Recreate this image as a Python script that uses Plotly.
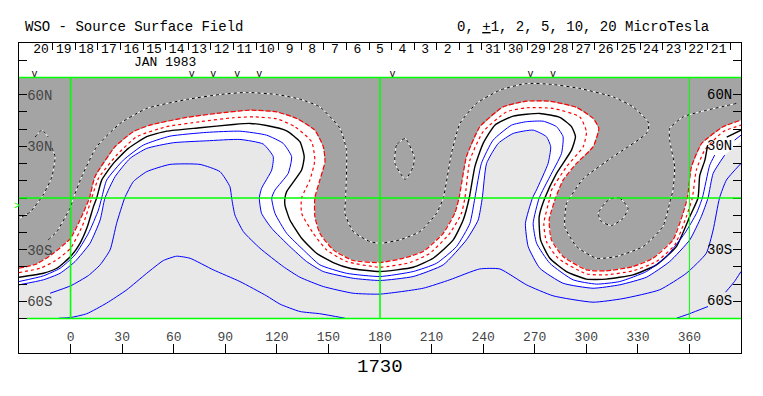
import plotly.graph_objects as go

# --- Contour lines (Carrington longitude, latitude in degrees) ---
NEG2_LON = [-30,-19.7,-10,0,5.5,11,14.2,25.9,36.5,46.2,67.5,85,104.4,119.9,131.5,142.1,147,148,145,142.1,142.1,145,152.8,164.4,180,193.5,205.1,216.8,223.5,226,230.3,238.1,251.6,265.2,278.8,294.3,304,307.3,304,294.3,286.5,282.1,278.4,279.7,286.5,300.1,311.7,327.2,338.8,350.5,356.3,358.8,361.2,367.1,379.6,390]
NEG2_LAT = [-40.8,-38.3,-32.1,-23.4,-12.8,0,12.4,29.8,38.5,42.3,46.8,49.1,51,50,46.2,39.4,29.8,21.1,10.4,0,-10.8,-20.5,-30.1,-36.3,-37.5,-35,-31.1,-20.5,-8.9,0,24,41.4,52.9,56.2,56.2,52.6,46.2,40.4,29.8,20.1,10.4,0,-12.8,-24.3,-34,-41.7,-42.3,-39.8,-35,-24.3,-8.9,0,18.2,31.7,41.4,45.2]

NEG1_LON = [-30,-17.7,-9,0,7.5,12.3,16.2,26.8,38.5,55.9,75.3,94.7,106.3,119.9,130.5,140.2,142.1,139.2,134.4,134.4,141.2,148.9,160.5,180,197.4,209,220.6,227.4,229.4,232.3,240,253.6,265.2,280.7,296.2,300.1,298.2,288.5,279.8,278.8,275.3,276.8,283.6,300.1,311.7,327.2,340.8,351.5,358.2,361.7,364,368.9,379.6,390]
NEG1_LAT = [-43.3,-40.8,-36.5,-29.2,-14.7,0,11.4,24.9,35.6,41.4,44.3,46.6,47.1,46,41.4,32.7,22,10.4,0,-8.9,-20.5,-30.1,-36.9,-40.2,-37.5,-32.1,-20.5,-8.9,0,22,38.5,50,52.4,52,47.1,38.5,29.8,18.2,4.6,0,-14.7,-25.3,-35,-44.1,-44.6,-42.3,-36.9,-27.2,-10.8,0,16.2,27.8,38.5,42.3]

ZERO_LON = [-30,-15.8,-8,0,5.5,9.8,13.3,15.2,18.1,24.9,33.6,44.3,55.9,75.3,94.7,104.4,114,125.7,133.4,135.9,134.4,125.7,124.7,124.7,127.6,134.4,143.1,152.8,162.5,180,199.3,210.9,222.6,228.4,231.9,235.2,240,246.8,257.5,273,284.6,291.4,293.7,291.4,282.7,275.9,272.6,273.4,278.8,288.5,300.1,311.7,327.2,340.8,352.4,360.2,365,366,369,370.6,None,381.7,390]
ZERO_LAT = [-46,-43.7,-40.8,-34,-26.3,-16.6,-5,0,10.4,20.1,28.8,35.6,38.8,40.8,42.7,43.3,42.1,39,32.7,24,16.2,3.7,0,-4.1,-12.8,-23.4,-32.1,-37.5,-40.8,-42.7,-40.2,-35,-24.3,-12.8,0,18.2,31.7,42.3,47.5,49.1,46.8,41.4,35.6,27.8,14.3,0,-10.8,-24.3,-35,-42.7,-47.1,-47.1,-44.6,-38.8,-28.2,-10.8,0,13,22,30.7,None,35.4,39.4]

POS1_LON = [-30,-15.8,-6.1,2.6,10.4,16.2,18.1,21,30.7,42.3,57.8,79.2,98.5,114,123.7,128.6,126.6,118.9,117,118.9,125.7,135.4,145,160.5,180,199.3,212.9,224.5,232.3,235.2,239,245.8,256.5,265.2,274.9,282.7,286.5,285.6,278.8,272.6,269.1,271.1,278.8,292.3,305.9,319.5,335,346.6,357.3,364.1,367.5,371.8,374.7,None,386.3,390]
POS1_LAT = [-48.5,-45.2,-40.8,-33,-20.5,-7,0,10.4,22,30.7,35.9,38.1,38.8,36.5,31.7,24,14.3,4.6,0,-8.9,-20.5,-30.1,-38.8,-43.7,-45.6,-42.7,-37.9,-28.2,-14.7,0,20.1,33.6,42.3,44.3,44.6,41.4,35.6,25.9,12.4,0,-14.7,-26.3,-37.9,-47.5,-50,-48.5,-42.7,-34,-20.5,-8.9,0,19,24.9,None,33.6,36.5]

POS2_LON = [-30,-15.8,-6.1,2.6,11.3,17.2,20,25.9,34.6,44.3,59.8,79.2,98.5,112.1,117.9,117,111.1,109.8,111.1,117,127.6,137.3,147,164.4,180,199.3,216.8,230.3,237.1,239.5,242,248.8,257.5,269.1,276.8,279.3,277.8,271,268.7,264.6,266.2,273,286.5,303.9,319.5,335,348.5,360.2,366.9,370.8,373.8,380.5,390]
POS2_LAT = [-50.4,-47.5,-43.7,-36.9,-26.3,-12.8,0,12.4,23,28.8,32.1,33.2,34,31.3,24,16.2,5.6,0,-8.9,-17.6,-28.2,-36.9,-42.7,-46.6,-47.9,-45.6,-38.8,-24.3,-12.8,0,20.1,31.7,37.5,39.4,35.6,29.8,20.1,4.6,0,-14.7,-28.2,-40.8,-49.5,-52.4,-50.4,-46,-36.9,-24.3,-10.8,0,14.3,24.9,32.7]

POS5_LON = [-11.9,0,10.4,17.2,23,26.8,31.5,36.5,44.3,57.8,75.3,86.9,92.7,93.7,95.6,100.5,110.2,123.7,133.4,147,164.4,180,205.1,220.6,238,249.7,265.2,280.7,303.9,321.4,342.7,358.2,369.8,373.8,377.5,381.5,390]
POS5_LAT = [-55.3,-51,-45,-38.8,-30.1,-14.7,0,9.5,15.3,19.5,19.5,15.3,6.6,0,-9.9,-19.5,-29.2,-39.8,-46,-51.4,-55.3,-55.8,-52.4,-47.5,-41.2,-41.2,-50.4,-56.8,-60.5,-58.4,-53.3,-43.7,-32.1,-18.6,0,10.4,20.1]

POS10_LON = [-7,0,9.4,21,32.7,44.3,54,61.7,69.5,83,98.5,114,121.8,133.4,145,159.6,None,352.5,360,370.8,None,381,386.2,390]
POS10_LAT = [-69.8,-69.4,-67.2,-61,-53.3,-43.7,-36.3,-33.8,-35,-41.7,-48.5,-56.8,-61.6,-65.9,-67.2,-69.8,None,-69.8,-67.2,-63,None,-54.7,-48.5,-42.7]

NEG5_LON = [-20.6,-16.7,-13,None,-10.8,-9,-10.9,-16,-23.5,-29.4,None,-13,-8,0,1.6,6.5,15.2,28.8,44.3,67.5,86.9,102.4,119.9,133.4,145,156.7,160.5,160,159.6,164.4,174.1,180,191.6,203.2,212.9,216.8,221.6,226.5,236.1,249.7,265.2,280.7,296.2,315.6,327.2,336.5,335,315.6,298.2,290.4,288.5,287.5,294.3,305.9,317.5,333,344.6,348.5,350.4,351.4,348.5,348.5,356.3,366,387.3]
NEG5_LAT = [35.4,39.4,35.4,None,29,23.8,12.2,1.7,-8.1,-11.6,None,-24.3,-19.5,-5.2,0,12.4,29.8,43.3,52,57.2,60.1,61.3,60.1,57.4,52.9,40.4,27.8,0,-8.9,-19.5,-25.3,-26.3,-24.3,-19.5,-8.9,0,25.9,43.3,54.9,62.6,66.5,65.9,63.6,58.7,52.9,43.3,37.5,24,11.2,0,-3.1,-16.6,-28.2,-35,-34,-28.2,-16.6,-3.1,4.6,18.2,33.6,40.4,47.1,50,54.9]

NEG10_LON = [194.7,189.6,188.7,194.7,199.3,199.9,194.7,None,313.7,319.5,324.3,321.4,314.7,308.8,306.9,310.8,313.7]
NEG10_LAT = [34.6,30.7,20.1,10.8,18.2,24,34.6,None,-0.6,0,-6,-11.8,-16,-13.7,-8.9,-3.1,-0.6]

# --- Axis labels ---
LON_TICKS = list(range(0, 361, 30))
LAT_TICKS = [-80,-70,-60,-50,-40,-30,-20,-10,0,10,20,30,40,50,60,70,80]
LAT_TEXT = ["","","60S","","","30S","","","","","","30N","","","60N","",""]
RIGHT_LAT_LABELS = [60, 30, -30, -60]
RIGHT_TEXT = ["60N", "30N", "30S", "60S"]

DAY_TICKS = [-23.5,-10.4,2.8,15.9,29.1,42.2,55.3,68.5,81.6,94.8,107.9,121,134.2,147.3,160.5,173.6,186.7,199.9,213,226.2,239.3,252.4,265.6,278.7,291.9,305,318.1,331.3,344.4,357.6,370.7,383.8]
DAY_POS = [-17.2,-4,9.1,22.3,35.4,48.5,61.7,74.8,88,101.1,114.2,127.4,140.5,153.7,166.8,179.9,193.1,206.2,219.4,232.5,245.6,258.8,271.9,285.1,298.2,311.3,324.5,337.6,350.8,363.9,377]
DAY_TEXT = ["20","19","18","17","16","15","14","13","12","11","10","9","8","7","6","5","4","3","2","1","31","30","29","28","27","26","25","24","23","22","21"]
OBS_LON = [-21,70.5,83,97,109.8,187.3,267.5,280.7]

FONT = "Liberation Mono"
BLUE, RED, GREEN = "#0000ff", "#ff0000", "#00ff00"
DARK, LIGHT = "#a4a4a4", "#e8e8e8"

fig = go.Figure()

def closed(lons, lats):
    return lons + [390, -30], lats + [-70, -70]

x, y = closed(NEG2_LON, NEG2_LAT)
fig.add_trace(go.Scatter(x=x, y=y, mode="lines", fill="toself", fillcolor="#ffffff", line=dict(width=0), hoverinfo="skip"))
x, y = closed(POS2_LON, POS2_LAT)
fig.add_trace(go.Scatter(x=x, y=y, mode="lines", fill="toself", fillcolor=LIGHT, line=dict(width=0), hoverinfo="skip"))

def contour(lons, lats, color, width=1.0, dash=None):
    fig.add_trace(go.Scatter(x=lons, y=lats, mode="lines", connectgaps=False,
                             line=dict(color=color, width=width, dash=dash, shape="spline", smoothing=0.5)))

for lo, la in ((NEG5_LON, NEG5_LAT), (NEG10_LON, NEG10_LAT)):
    contour(lo, la, "#ffffff", 1.0)
    contour(lo, la, "#000000", 1.0, "3px,3px")
contour(NEG2_LON, NEG2_LAT, RED, 1.2, "5px,2px")
contour(NEG1_LON, NEG1_LAT, RED, 1.2, "3px,3px")
contour(ZERO_LON, ZERO_LAT, "#000000", 1.4)
contour(POS1_LON, POS1_LAT, BLUE, 1.0)
contour(POS2_LON[:-1], POS2_LAT[:-1], BLUE, 1.0)
contour(POS5_LON, POS5_LAT, BLUE, 1.0)
contour(POS10_LON, POS10_LAT, BLUE, 1.0)

fig.add_trace(go.Scatter(x=DAY_POS, y=[85.8]*len(DAY_POS), text=DAY_TEXT, mode="text", xaxis="x2",
                         textfont=dict(family=FONT, size=13, color="#000"), hoverinfo="skip"))
fig.add_trace(go.Scatter(x=OBS_LON, y=[71.9]*len(OBS_LON), text=["v"]*len(OBS_LON), mode="text", xaxis="x2",
                         textfont=dict(family=FONT, size=10, color="#000"), hoverinfo="skip"))

shapes = [dict(type="rect", xref="x", yref="y", x0=-30, x1=390, y0=-70, y1=70, fillcolor=DARK, line_width=0, layer="below")]
for lon, w in ((0, 1.6), (180, 1.6), (360, 1)):
    shapes.append(dict(type="line", xref="x", yref="y", x0=lon, x1=lon, y0=-70, y1=70, line=dict(color=GREEN, width=w), layer="above"))
for lat, x0 in ((-70, -25.4), (0, -30), (70, -30)):
    shapes.append(dict(type="line", xref="x", yref="y", x0=x0, x1=390, y0=lat, y1=lat, line=dict(color=GREEN, width=1.6), layer="above"))

anns = [
    dict(text="WSO - Source Surface Field", xref="paper", yref="paper", x=0.0055, y=1.05, xanchor="left", yanchor="middle", font=dict(size=14)),
    dict(text="0, <u>+</u>1, 2, 5, 10, 20 MicroTesla", xref="paper", yref="paper", x=0.604, y=1.05, xanchor="left", yanchor="middle", font=dict(size=14)),
    dict(text="1730", xref="paper", yref="paper", x=0.5, y=-0.045, xanchor="center", yanchor="middle", font=dict(size=19)),
    dict(text="JAN 1983", xref="x", yref="y", x=55.2, y=78.6, xanchor="center", yanchor="middle", font=dict(size=13)),
    dict(text=">", xref="paper", yref="paper", x=-0.003, y=0.471, xanchor="center", yanchor="middle", font=dict(size=10, color=GREEN)),
]
for lat, t in zip(RIGHT_LAT_LABELS, RIGHT_TEXT):
    anns.append(dict(text=t, xref="x", yref="y", x=385.8, y=lat, xanchor="right", yanchor="middle", font=dict(size=14)))
for a in anns:
    a["showarrow"] = False

fig.update_layout(
    width=763, height=396, autosize=False,
    margin=dict(l=19, r=22, t=43, b=43, pad=0),
    paper_bgcolor="#ffffff", plot_bgcolor="#ffffff",
    showlegend=False,
    font=dict(family=FONT, color="#000000", size=13),
    shapes=shapes, annotations=anns,
    xaxis=dict(range=[-30, 390], tickmode="array", tickvals=LON_TICKS, ticktext=[str(v) for v in LON_TICKS],
               ticks="inside", ticklen=9, tickcolor="#000", tickwidth=1, ticklabelposition="inside",
               tickfont=dict(size=13), showgrid=False, zeroline=False, showline=True, linecolor="#000", linewidth=1, mirror=True),
    xaxis2=dict(range=[-30, 390], overlaying="x", side="top", anchor="y", tickmode="array", tickvals=DAY_TICKS,
                ticks="inside", ticklen=7, tickcolor="#000", tickwidth=1, showticklabels=False, showgrid=False, zeroline=False),
    yaxis=dict(range=[-90, 90], tickmode="array", tickvals=LAT_TICKS, ticktext=LAT_TEXT, ticks="inside", ticklen=8,
               tickcolor="#000", tickwidth=1, ticklabelposition="inside", tickfont=dict(size=14),
               showgrid=False, zeroline=False, showline=True, linecolor="#000", linewidth=1, mirror="ticks"),
)

fig.write_html("out.html", config={"displayModeBar": False}, post_script="document.body.style.margin='0';")
